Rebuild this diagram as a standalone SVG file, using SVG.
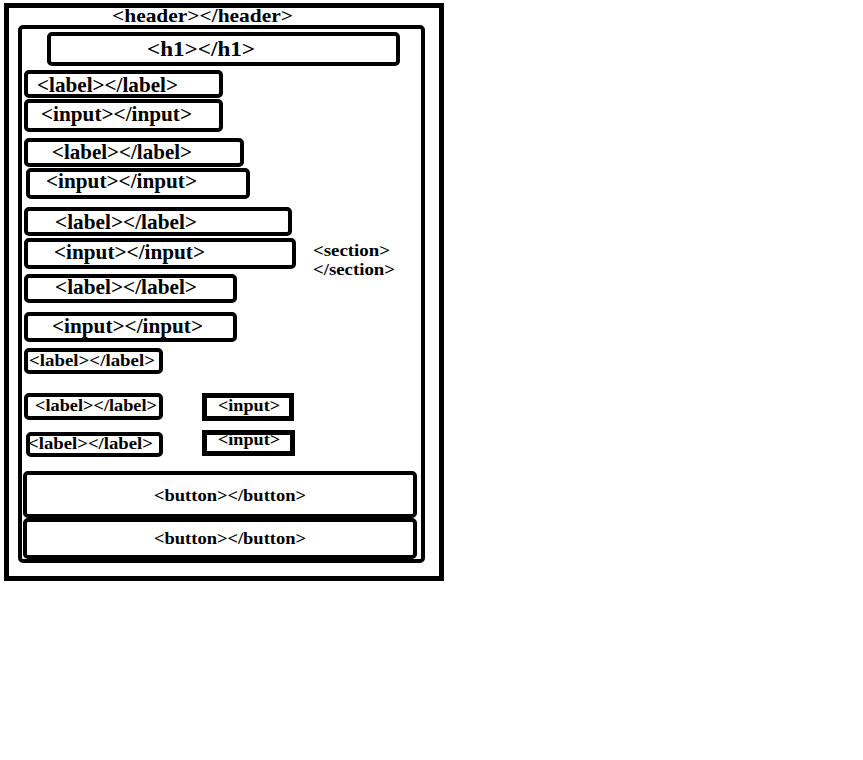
<svg xmlns="http://www.w3.org/2000/svg" width="863" height="760" viewBox="0 0 863 760">
<style>
.box{fill:#fff;stroke:#000;stroke-width:4}
.thick{fill:#fff;stroke:#000;stroke-width:5}
text{font-family:"Liberation Serif","Times New Roman",serif;font-weight:bold;fill:#000}
.big{font-size:21px}
.mid{font-size:19px}
.sm{font-size:17px}
</style>
<rect width="863" height="760" fill="#fff"/>
<g id="header">
<rect x="6.5" y="5.5" width="435" height="573" fill="#fff" stroke="#000" stroke-width="5"/>
<text class="mid" x="112" y="22" textLength="181" lengthAdjust="spacingAndGlyphs">&lt;header&gt;&lt;/header&gt;</text>
</g>
<g id="section">
<rect x="20" y="27" width="403" height="534" rx="3" class="box"/>
<text class="sm" x="313" y="256" textLength="77" lengthAdjust="spacingAndGlyphs">&lt;section&gt;</text>
<text class="sm" x="313" y="275" textLength="82" lengthAdjust="spacingAndGlyphs">&lt;/section&gt;</text>
</g>
<g id="h1">
<rect x="49" y="34" width="349" height="30" rx="3" class="box"/>
<text class="big" x="147" y="56" textLength="108" lengthAdjust="spacingAndGlyphs">&lt;h1&gt;&lt;/h1&gt;</text>
</g>
<g id="label1">
<rect x="26" y="72" width="195" height="24" rx="3" class="box"/>
<text class="big" x="37" y="92" textLength="141" lengthAdjust="spacingAndGlyphs">&lt;label&gt;&lt;/label&gt;</text>
</g>
<g id="input1">
<rect x="26" y="101" width="195" height="29" rx="3" class="box"/>
<text class="big" x="41" y="121" textLength="151" lengthAdjust="spacingAndGlyphs">&lt;input&gt;&lt;/input&gt;</text>
</g>
<g id="label2">
<rect x="26" y="140" width="216" height="25" rx="3" class="box"/>
<text class="big" x="52" y="159" textLength="140" lengthAdjust="spacingAndGlyphs">&lt;label&gt;&lt;/label&gt;</text>
</g>
<g id="input2">
<rect x="28" y="170" width="220" height="27" rx="3" class="box"/>
<text class="big" x="46" y="188" textLength="151" lengthAdjust="spacingAndGlyphs">&lt;input&gt;&lt;/input&gt;</text>
</g>
<g id="label3">
<rect x="26" y="209" width="264" height="25" rx="3" class="box"/>
<text class="big" x="55" y="229" textLength="142" lengthAdjust="spacingAndGlyphs">&lt;label&gt;&lt;/label&gt;</text>
</g>
<g id="input3">
<rect x="26" y="240" width="268" height="27" rx="3" class="box"/>
<text class="big" x="54" y="259" textLength="151" lengthAdjust="spacingAndGlyphs">&lt;input&gt;&lt;/input&gt;</text>
</g>
<g id="label4">
<rect x="26" y="276" width="209" height="25" rx="3" class="box"/>
<text class="big" x="55" y="294" textLength="142" lengthAdjust="spacingAndGlyphs">&lt;label&gt;&lt;/label&gt;</text>
</g>
<g id="input4">
<rect x="26" y="314" width="209" height="26" rx="3" class="box"/>
<text class="big" x="52" y="333" textLength="151" lengthAdjust="spacingAndGlyphs">&lt;input&gt;&lt;/input&gt;</text>
</g>
<g id="label5">
<rect x="26" y="350" width="135" height="22" rx="3" class="box"/>
<text class="sm" x="29" y="366" textLength="126" lengthAdjust="spacingAndGlyphs">&lt;label&gt;&lt;/label&gt;</text>
</g>
<g id="label6">
<rect x="26" y="395" width="135" height="23" rx="3" class="box"/>
<text class="sm" x="35" y="411" textLength="122" lengthAdjust="spacingAndGlyphs">&lt;label&gt;&lt;/label&gt;</text>
</g>
<g id="input6">
<rect x="204.5" y="395.5" width="87" height="23" class="thick"/>
<text class="sm" x="218" y="411" textLength="62" lengthAdjust="spacingAndGlyphs">&lt;input&gt;</text>
</g>
<g id="label7">
<rect x="28" y="434" width="133" height="21" rx="3" class="box"/>
<text class="sm" x="28" y="449" textLength="125" lengthAdjust="spacingAndGlyphs">&lt;label&gt;&lt;/label&gt;</text>
</g>
<g id="input7">
<rect x="204.5" y="432.5" width="88" height="21" class="thick"/>
<text class="sm" x="218" y="445" textLength="62" lengthAdjust="spacingAndGlyphs">&lt;input&gt;</text>
</g>
<g id="button1">
<rect x="25" y="473" width="390" height="43" rx="3" class="box"/>
<text class="sm" x="154" y="501" textLength="152" lengthAdjust="spacingAndGlyphs">&lt;button&gt;&lt;/button&gt;</text>
</g>
<g id="button2">
<rect x="25" y="520" width="390" height="37" rx="3" class="box"/>
<text class="sm" x="154" y="544" textLength="152" lengthAdjust="spacingAndGlyphs">&lt;button&gt;&lt;/button&gt;</text>
</g>
<g id="connectors"/>
</svg>
